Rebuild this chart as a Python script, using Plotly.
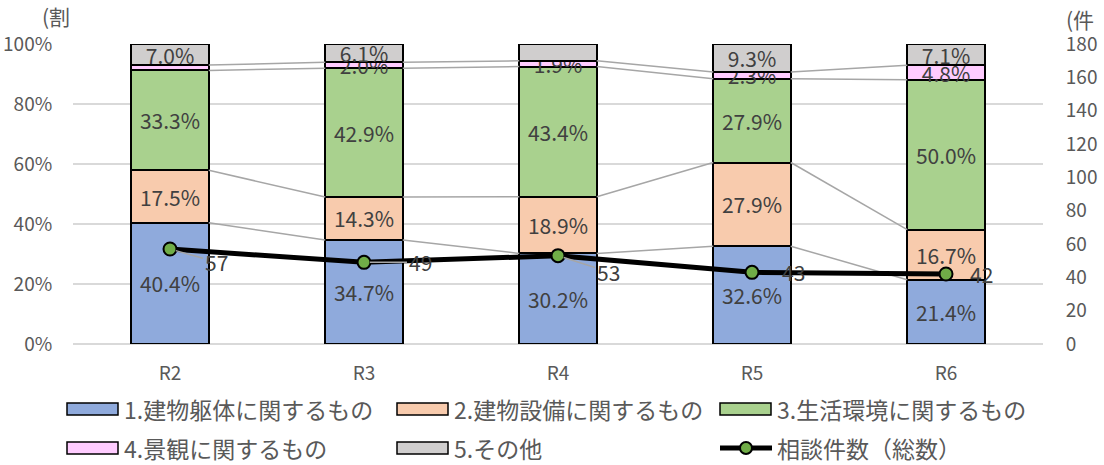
import plotly.graph_objects as go

# Fiscal years
categories = ["R2", "R3", "R4", "R5", "R6"]

# Share of consultations by type (%)
series_names = [
    "1.建物躯体に関するもの",
    "2.建物設備に関するもの",
    "3.生活環境に関するもの",
    "4.景観に関するもの",
    "5.その他",
]
structure_pct = [40.4, 34.7, 30.2, 32.6, 21.4]
equipment_pct = [17.5, 14.3, 18.9, 27.9, 16.7]
environment_pct = [33.3, 42.9, 43.4, 27.9, 50.0]
landscape_pct = [1.8, 2.0, 1.9, 2.3, 4.8]
other_pct = [7.0, 6.1, 5.7, 9.3, 7.1]

# Labels printed on the segments (blank where none is printed)
structure_lbl = ["40.4%", "34.7%", "30.2%", "32.6%", "21.4%"]
equipment_lbl = ["17.5%", "14.3%", "18.9%", "27.9%", "16.7%"]
environment_lbl = ["33.3%", "42.9%", "43.4%", "27.9%", "50.0%"]
landscape_lbl = ["", "2.0%", "1.9%", "2.3%", "4.8%"]
other_lbl = ["7.0%", "6.1%", "", "9.3%", "7.1%"]

# Total number of consultations
total_name = "相談件数（総数）"
total_cases = [57, 49, 53, 43, 42]

colors = ["#8FAADC", "#F8CBAD", "#A9D18E", "#FFCCFF", "#D0CECE"]
FONT = "Noto Sans CJK JP, sans-serif"
TICK_COLOR = "#595959"
LABEL_COLOR = "#404040"
BAR_W = 0.4

# Plot area in pixels (used to place the hand-drawn legend)
W, H = 1104, 465
M_L, M_R, M_T, M_B = 73, 61, 44, 121
PW, PH = W - M_L - M_R, H - M_T - M_B


def px_x(p):
    return (p - M_L) / PW


def px_y(p):
    return (H - M_B - p) / PH


xs = list(range(len(categories)))
stack = [structure_pct, equipment_pct, environment_pct, landscape_pct, other_pct]
labels = [structure_lbl, equipment_lbl, environment_lbl, landscape_lbl, other_lbl]

fig = go.Figure()

for name, vals, txt, col in zip(series_names, stack, labels, colors):
    fig.add_trace(go.Bar(
        x=xs, y=vals, name=name, width=BAR_W,
        marker=dict(color=col, line=dict(color="#000000", width=2)),
        text=txt, textposition="inside", insidetextanchor="middle",
        textangle=0, constraintext="none",
        textfont=dict(family=FONT, size=21, color=LABEL_COLOR),
        showlegend=False, hoverinfo="skip",
    ))

# Series lines joining segment boundaries of neighbouring bars
cum = []
running = [0.0] * len(categories)
for vals in stack[:-1]:
    running = [r + v for r, v in zip(running, vals)]
    cum.append(list(running))
sx, sy = [], []
for level in cum:
    for i in range(len(categories) - 1):
        sx += [xs[i] + BAR_W / 2, xs[i + 1] - BAR_W / 2, None]
        sy += [level[i], level[i + 1], None]
fig.add_trace(go.Scatter(
    x=sx, y=sy, mode="lines", line=dict(color="#A6A6A6", width=1.5),
    showlegend=False, hoverinfo="skip",
))

# Total consultations on the secondary axis
fig.add_trace(go.Scatter(
    x=xs, y=total_cases, name=total_name, yaxis="y2",
    mode="lines+markers",
    line=dict(color="#000000", width=5),
    marker=dict(size=13, color="#70AD47", line=dict(color="#000000", width=2)),
    showlegend=False, hoverinfo="skip",
))

annotations = []

# Value labels of the total line; some sit away from the point with a leader line
label_offsets = [(46, 13, True), (56, 0, True), (50, 16, True), (41, 0, False), (35, 0, False)]
for xi, v, (dx, dy, leader) in zip(xs, total_cases, label_offsets):
    if leader:
        annotations.append(dict(
            x=xi, y=v, xref="x", yref="y2", text=str(v),
            showarrow=True, ax=dx, ay=dy, arrowhead=0, arrowwidth=1.5,
            arrowcolor="#A6A6A6", standoff=6,
            font=dict(family=FONT, size=21, color=LABEL_COLOR),
        ))
    else:
        annotations.append(dict(
            x=xi, y=v, xref="x", yref="y2", text=str(v),
            showarrow=False, xshift=dx, yshift=-dy,
            font=dict(family=FONT, size=21, color=LABEL_COLOR),
        ))

# Legend drawn as shapes + text, two rows of three entries
shapes = []
entry_x = [67, 397, 720]
row_y = [409, 448]
entries = [(series_names[i], colors[i]) for i in range(5)] + [(total_name, None)]
for k, (name, col) in enumerate(entries):
    ex = entry_x[k % 3]
    ey = row_y[k // 3]
    if col is not None:
        shapes.append(dict(
            type="rect", xref="paper", yref="paper",
            x0=px_x(ex), x1=px_x(ex + 51), y0=px_y(ey + 6), y1=px_y(ey - 6),
            fillcolor=col, line=dict(color="#000000", width=1.5), layer="above",
        ))
    else:
        shapes.append(dict(
            type="line", xref="paper", yref="paper",
            x0=px_x(ex), x1=px_x(ex + 52), y0=px_y(ey), y1=px_y(ey),
            line=dict(color="#000000", width=5), layer="above",
        ))
        shapes.append(dict(
            type="circle", xref="paper", yref="paper",
            x0=px_x(ex + 20), x1=px_x(ex + 32), y0=px_y(ey + 6), y1=px_y(ey - 6),
            fillcolor="#70AD47", line=dict(color="#000000", width=2), layer="above",
        ))
    annotations.append(dict(
        text=name, xref="paper", yref="paper", x=px_x(ex + 55), y=px_y(ey),
        xanchor="left", yanchor="middle", showarrow=False,
        font=dict(family=FONT, size=23, color=TICK_COLOR),
    ))

# Axis unit captions
annotations += [
    dict(text="(割", xref="paper", yref="paper", x=px_x(40), y=px_y(16),
         xanchor="left", yanchor="middle", showarrow=False,
         font=dict(family=FONT, size=21, color=TICK_COLOR)),
    dict(text="(件", xref="paper", yref="paper", x=px_x(1064), y=px_y(19),
         xanchor="left", yanchor="middle", showarrow=False,
         font=dict(family=FONT, size=21, color=TICK_COLOR)),
]

fig.update_layout(
    width=W, height=H,
    margin=dict(l=M_L, r=M_R, t=M_T, b=M_B, autoexpand=False),
    paper_bgcolor="#FFFFFF", plot_bgcolor="#FFFFFF",
    barmode="stack",
    showlegend=False,
    uniformtext=dict(mode="show", minsize=21),
    xaxis=dict(
        range=[-0.5, len(categories) - 0.5],
        tickmode="array", tickvals=xs, ticktext=categories,
        showgrid=False, zeroline=False, showline=False,
        ticks="outside", ticklen=12, tickcolor="rgba(0,0,0,0)",
        tickfont=dict(family=FONT, size=19, color=TICK_COLOR),
    ),
    yaxis=dict(
        range=[0, 100], tickmode="array",
        tickvals=[0, 20, 40, 60, 80, 100],
        ticktext=["0%", "20%", "40%", "60%", "80%", "100%"],
        showgrid=True, gridcolor="#D9D9D9", gridwidth=1.5,
        zeroline=True, zerolinecolor="#D9D9D9", zerolinewidth=2,
        ticks="outside", ticklen=16, tickcolor="rgba(0,0,0,0)",
        tickfont=dict(family=FONT, size=19, color=TICK_COLOR),
    ),
    yaxis2=dict(
        range=[0, 180], overlaying="y", side="right",
        tickmode="linear", tick0=0, dtick=20,
        showgrid=False, zeroline=False, showline=False,
        ticks="outside", ticklen=18, tickcolor="rgba(0,0,0,0)",
        tickfont=dict(family=FONT, size=19, color=TICK_COLOR),
    ),
    shapes=shapes,
    annotations=annotations,
)

fig.write_html("out.html")
